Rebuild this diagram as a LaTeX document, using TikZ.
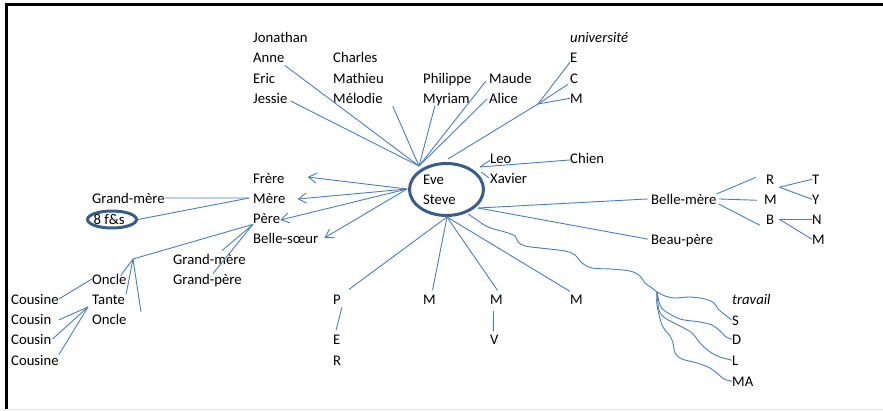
\documentclass[tikz,border=0pt]{standalone}
\usepackage{fontspec}
\setmainfont{Carlito}
\usetikzlibrary{arrows.meta,shapes.geometric}
\definecolor{wire}{HTML}{4A7EBB}
\definecolor{ring}{HTML}{385D8A}
\begin{document}
\begin{tikzpicture}[x=1pt,y=-1pt,
  lbl/.style={anchor=base west,inner sep=0pt,font=\fontsize{14.7}{17}\selectfont},
  itl/.style={lbl,font=\fontsize{14.7}{17}\selectfont\itshape},
  wirel/.style={draw=wire,line width=0.9pt},
  ptr/.style={wirel,-{Straight Barb[length=8pt,width=10pt]}},
  ringnode/.style={ellipse,draw=ring,line width=3pt,inner sep=0pt}]
\useasboundingbox (0,0) rectangle (883,410);

% frame
\draw[line width=3pt,black] (5,4.5) -- (883,4.5);
\draw[line width=3pt,black] (6.5,3) -- (6.5,409);
\draw[black!12,line width=1pt] (8,409) -- (883,409);

% friends, top
\node[lbl] (jonathan) at (253,42) {Jonathan};
\node[lbl] (anne) at (253,62) {Anne};
\node[lbl] (eric) at (253,83) {Eric};
\node[lbl] (jessie) at (253,103) {Jessie};
\node[lbl] (charles) at (333,62) {Charles};
\node[lbl] (mathieu) at (333,83) {Mathieu};
\node[lbl] (melodie) at (333,103) {Mélodie};
\node[lbl] (philippe) at (423,83) {Philippe};
\node[lbl] (myriam) at (423,103) {Myriam};
\node[lbl] (maude) at (489,83) {Maude};
\node[lbl] (alice) at (489,103) {Alice};
\node[itl] (univ) at (570,42) {université};
\node[lbl] (uniE) at (570,62) {E};
\node[lbl] (uniC) at (570,83) {C};
\node[lbl] (uniM) at (570,103) {M};

% centre
\node[ringnode,minimum width=74pt,minimum height=52pt] (core) at (446.5,189.5) {};
\node[lbl] (eve) at (423,184) {Eve};
\node[lbl] (steve) at (423,204) {Steve};
\node[lbl] (leo) at (490,163) {Leo};
\node[lbl] (xavier) at (490,183) {Xavier};
\node[lbl] (chien) at (570,163) {Chien};

% family, left
\node[lbl] (frere) at (253,183) {Frère};
\node[lbl] (mere) at (253,203) {Mère};
\node[lbl] (pere) at (253,223) {Père};
\node[lbl] (bsoeur) at (253,243) {Belle-sœur};
\node[lbl] (gmaternal) at (92,203) {Grand-mère};
\node[ringnode,minimum width=49pt,minimum height=17pt] (fsring) at (112,219.5) {};
\node[lbl] (fs) at (93.5,224) {8 f\&s};
\node[lbl] (gmpaternal) at (173,264) {Grand-mère};
\node[lbl] (gppaternal) at (173,284) {Grand-père};
\node[lbl] (oncleA) at (92,284) {Oncle};
\node[lbl] (tante) at (92,304) {Tante};
\node[lbl] (oncleB) at (92,324) {Oncle};
\node[lbl] (cousineA) at (11,304) {Cousine};
\node[lbl] (cousinA) at (11,324) {Cousin};
\node[lbl] (cousinB) at (11,344) {Cousin};
\node[lbl] (cousineB) at (11,365) {Cousine};

% bottom
\node[lbl] (p) at (333,304) {P};
\node[lbl] (e) at (333,344) {E};
\node[lbl] (r) at (333,365) {R};
\node[lbl] (mA) at (423,304) {M};
\node[lbl] (mB) at (490,304) {M};
\node[lbl] (v) at (490,344) {V};
\node[lbl] (mC) at (570,304) {M};

% in-laws, right
\node[lbl] (bmere) at (651,204) {Belle-mère};
\node[lbl] (bpere) at (651,244) {Beau-père};
\node[lbl] (sR) at (766,184) {R};
\node[lbl] (sM) at (764,204) {M};
\node[lbl] (sB) at (766,224) {B};
\node[lbl] (sT) at (812,184) {T};
\node[lbl] (sY) at (812,204) {Y};
\node[lbl] (sN) at (812,224) {N};
\node[lbl] (sMM) at (812,244) {M};

% work
\node[itl] (trav) at (732,304) {travail};
\node[lbl] (wS) at (732,325) {S};
\node[lbl] (wD) at (732,344) {D};
\node[lbl] (wL) at (732,365) {L};
\node[lbl] (wMA) at (732,386) {MA};

% junction points
\coordinate (hubN) at (419,166);
\coordinate (hubT) at (448,159);
\coordinate (uniJ) at (538,104);
\coordinate (hubNE) at (480,167);
\coordinate (hubX) at (481,172);
\coordinate (hubW) at (407,189);
\coordinate (hubE) at (478,208);
\coordinate (hubS) at (447,217);
\coordinate (hubSE) at (468,214);
\coordinate (workJ) at (657,292);
\coordinate (famJ) at (133,259);
\coordinate (famEnd) at (141,312);
\coordinate (cousJ) at (88,307);

% top connectors
\draw[wirel] ([shift={(0,3)}]anne.south east) -- (hubN);
\draw[wirel] ([shift={(3,3)}]jessie.east) -- (hubN);
\draw[wirel] ([shift={(10,3)}]melodie.south east) -- (hubN);
\draw[wirel] ([shift={(12,0)}]myriam.south west) -- (hubN);
\draw[wirel] ([shift={(-3,3)}]maude.west) -- (hubN);
\draw[wirel] ([shift={(-2,1)}]alice.west) -- (hubN);
\draw[wirel] (uniE.south west) -- (uniJ);
\draw[wirel] ([shift={(-2,1)}]uniC.south west) -- (uniJ);
\draw[wirel] (uniM.west) -- (uniJ);
\draw[wirel] (uniJ) -- (hubT);
\draw[wirel] (hubNE) -- ([shift={(0,2)}]leo.west);
\draw[wirel] (hubNE) -- ([shift={(0,2)}]chien.west);
\draw[wirel] (hubX) -- ([shift={(-1,0)}]xavier.west);

% arrows to the family
\draw[ptr] (hubW) -- ([shift={(23,-1)}]frere.east);
\draw[ptr] (hubW) -- ([shift={(12,1)}]mere.east);
\draw[ptr] (hubW) -- ([shift={(0,2)}]pere.east);
\draw[ptr] (hubW) -- ([shift={(6,0)}]bsoeur.east);

% grandparents and cousins
\draw[wirel] ([shift={(-4,0)}]mere.west) -- (gmaternal.east);
\draw[wirel] ([shift={(-4,0)}]mere.west) -- (fsring.east);
\draw[wirel] ([shift={(0,1)}]pere.south west) -- (famJ);
\draw[wirel] ([shift={(0,1)}]pere.south west) -- ([shift={(49,-3)}]gmpaternal.north west);
\draw[wirel] ([shift={(0,1)}]pere.south west) -- ([shift={(40,0)}]gppaternal.north west);
\draw[wirel] (famJ) -- ([shift={(-6,2)}]oncleA.north east);
\draw[wirel] (famJ) -- ([shift={(1,0)}]tante.north east);
\draw[wirel] (famJ) -- (famEnd);
\draw[wirel] (cousineA.east) -- (oncleA.west);
\draw[wirel] (cousJ) -- ([shift={(7,1)}]cousinA.east);
\draw[wirel] (cousJ) -- ([shift={(1,0)}]cousinB.east);
\draw[wirel] (cousJ) -- (cousineB.north east);

% bottom connectors
\draw[wirel] (hubS) -- ([shift={(8,-5)}]p.north east);
\draw[wirel] (hubS) -- ([shift={(3,-4)}]mA.north);
\draw[wirel] (hubS) -- ([shift={(1,-4)}]mB.north);
\draw[wirel] (hubS) -- ([shift={(0,-3)}]mC.north west);
\draw[wirel] ([shift={(1,3)}]p.south east) -- ([shift={(3,-4)}]e.north west);
\draw[wirel] ([shift={(-3,7)}]mB.south) -- ([shift={(-1,-3)}]v.north);

% in-law connectors
\draw[wirel] (hubE) -- ([shift={(-3,0)}]bmere.west);
\draw[wirel] (hubE) -- ([shift={(-3,-1)}]bpere.west);
\draw[wirel] ([shift={(0,-5)}]bmere.east) -- ([shift={(-10,-2)}]sR.west);
\draw[wirel] ([shift={(2,0)}]bmere.east) -- ([shift={(-7,1)}]sM.west);
\draw[wirel] ([shift={(2,5)}]bmere.east) -- ([shift={(-6,6)}]sB.west);
\draw[wirel] ([shift={(5,3)}]sR.south east) -- (sT.west);
\draw[wirel] ([shift={(5,3)}]sR.south east) -- (sY.west);
\draw[wirel] ([shift={(5,0)}]sB.east) -- (sN.west);
\draw[wirel] ([shift={(5,0)}]sB.east) -- (sMM.west);

% freehand line to work and its branches
\draw[wirel] plot[smooth,tension=0.55] coordinates {(hubSE) (474,218) (488,227) (505,232) (515,236) (518,242) (525,246) (540,248) (565,251) (575,255) (582,263) (592,268) (610,269) (630,271) (640,276) (645,283) (652,288) (workJ)};
\draw[wirel] plot[smooth,tension=0.55] coordinates {(workJ) (665,296) (675,298) (690,297) (705,299) (714,303) (718,309) (724,314) (wS.west)};
\draw[wirel] plot[smooth,tension=0.55] coordinates {(workJ) (660,305) (665,311) (680,319) (700,322) (712,325) (720,331) (726,337) (wD.west)};
\draw[wirel] plot[smooth,tension=0.55] coordinates {(workJ) (659,310) (665,318) (680,326) (692,333) (700,343) (710,352) (720,357) (wL.west)};
\draw[wirel] plot[smooth,tension=0.55] coordinates {(workJ) (657,305) (662,325) (670,336) (673,343) (675,353) (682,359) (697,363) (710,368) (718,374) (724,379) (wMA.west)};
\end{tikzpicture}
\end{document}
